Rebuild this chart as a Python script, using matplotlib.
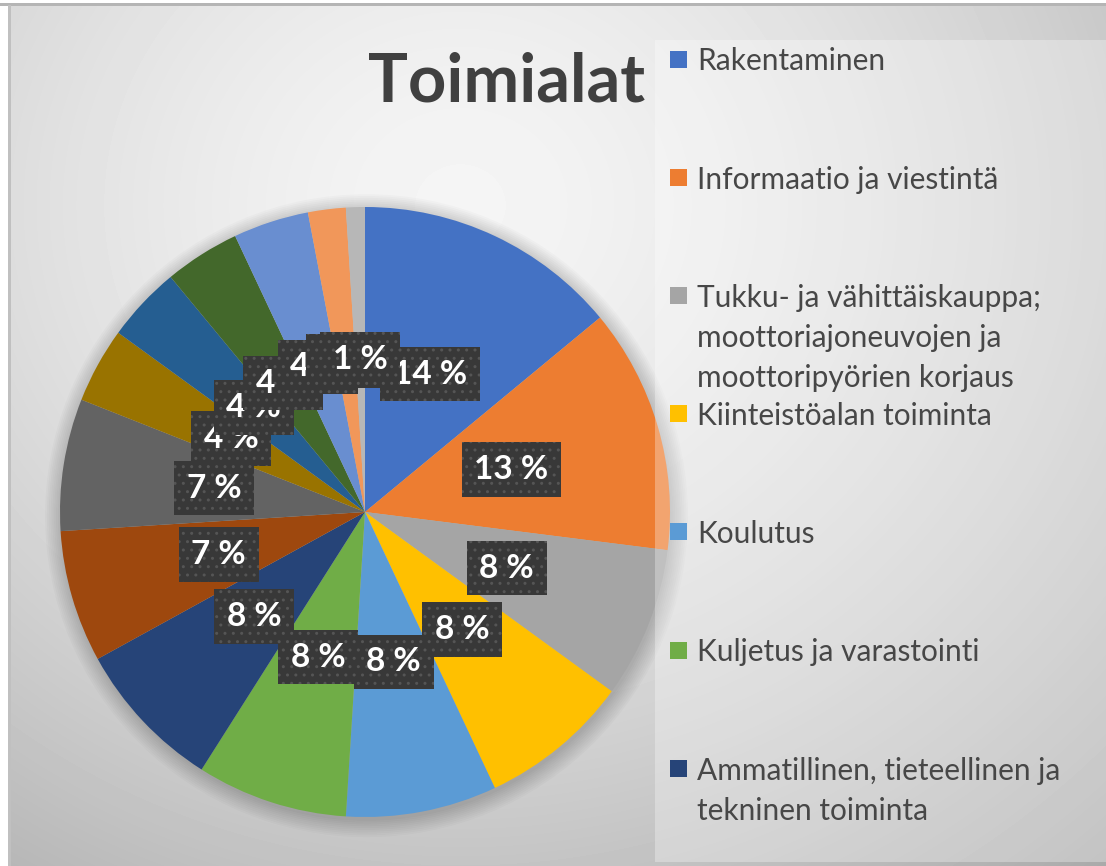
import numpy as np
import matplotlib.pyplot as plt
from matplotlib.patches import Rectangle, Circle

W, H = 1106, 866

# slice shares (%), clockwise from 12 o'clock
shares = [14, 13, 8, 8, 8, 8, 8, 7, 7, 4, 4, 4, 4, 2, 1]
colors = ['#4472C4', '#ED7D31', '#A5A5A5', '#FFC000', '#5B9BD5', '#70AD47',
          '#264478', '#9E480E', '#636363', '#997300', '#255E91', '#43682B',
          '#698ED0', '#F1975A', '#B7B7B7']
# only the first seven entries fit in the visible legend
legend_labels = ['Rakentaminen',
                 'Informaatio ja viestintä',
                 'Tukku- ja vähittäiskauppa;\nmoottoriajoneuvojen ja\nmoottoripyörien korjaus',
                 'Kiinteistöalan toiminta',
                 'Koulutus',
                 'Kuljetus ja varastointi',
                 'Ammatillinen, tieteellinen ja\ntekninen toiminta']
title = 'Toimialat'

plt.rcParams['font.family'] = ['Lato', 'DejaVu Sans']

fig = plt.figure(figsize=(W / 100, H / 100), dpi=100, facecolor='white')

# grey gradient background
bg = fig.add_axes([10 / W, 0, 1 - 10 / W, 1 - 5 / H])
yy, xx = np.mgrid[0:H - 5, 10:W]
d = np.hypot(xx - 460, (yy - 200) * 1.1) / 750
shade = np.clip(0.96 - 0.2 * d ** 1.5, 0, 1)
bg.imshow(shade, cmap='gray', vmin=0, vmax=1, aspect='auto')
bg.axis('off')
fig.add_artist(Rectangle((0, 1 - 6 / H), 1, 3 / H, transform=fig.transFigure,
                         facecolor='#b5b5b5', edgecolor='none'))
fig.add_artist(Rectangle((8 / W, 0), 3 / W, 1 - 5 / H, transform=fig.transFigure,
                         facecolor='#c0c0c0', edgecolor='none'))

# pie
ax = fig.add_axes([60 / W, (H - 817) / H, 610 / W, 610 / H])
for k in range(10):
    ax.add_patch(Circle((0.005, -0.012), 1.0 + 0.006 * k, facecolor='black',
                        alpha=0.018, edgecolor='none', clip_on=False, zorder=0))
wedges, texts, autotexts = ax.pie(
    shares, colors=colors, startangle=90, counterclock=False,
    autopct=lambda p: f'{p:.0f} %', pctdistance=0.5,
    wedgeprops=dict(linewidth=0),
    textprops=dict(color='white', fontsize=24, fontweight='bold'))
for w in wedges:
    w.set_zorder(1)
for t in autotexts:
    t.set_zorder(3)
    t.set_bbox(dict(boxstyle='square,pad=0.38', facecolor='#383838',
                    edgecolor='#555555', hatch='..', linewidth=0))
ax.set_xlim(-1, 1)
ax.set_ylim(-1, 1)

# legend panel
fig.add_artist(Rectangle((655 / W, 4 / H), (W - 655) / W, (862 - 40) / H,
                         transform=fig.transFigure, facecolor='white',
                         alpha=0.3, edgecolor='none', zorder=1))
for i, (lab, col) in enumerate(zip(legend_labels, colors)):
    yc = 59 + i * 118.2
    fig.add_artist(Rectangle((670 / W, 1 - (yc + 8.5) / H), 17 / W, 17 / H,
                             transform=fig.transFigure, facecolor=col,
                             edgecolor='none', zorder=2))
    for j, line in enumerate(lab.split('\n')):
        fig.text(697 / W, 1 - (yc + 40 * j) / H, line, ha='left',
                 va='center_baseline', fontsize=21.5, color='#474747', zorder=2)

fig.text(507 / W, 1 - 82 / H, title, ha='center', va='center',
         fontsize=48, fontweight='bold', color='#404040')

fig.savefig('out.png', dpi=100, facecolor=fig.get_facecolor())
